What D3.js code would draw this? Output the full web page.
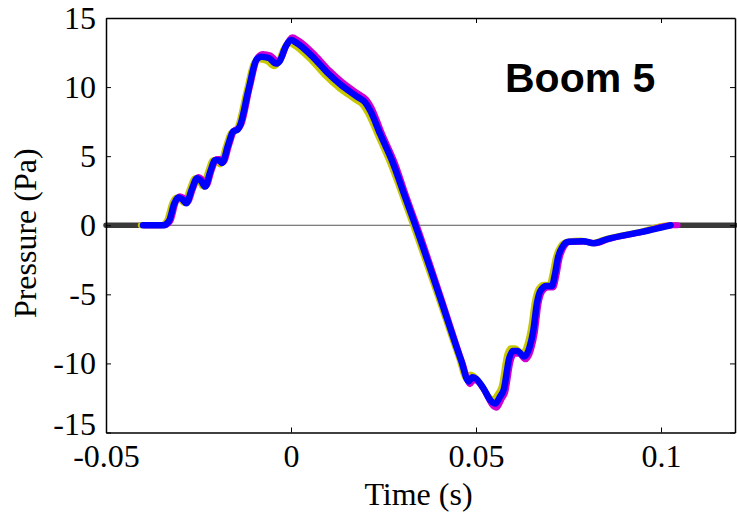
<!DOCTYPE html>
<html>
<head>
<meta charset="utf-8">
<script src="https://cdn.jsdelivr.net/npm/d3@7"></script>
<style>
  html, body { margin: 0; padding: 0; background: #fff; }
  svg { display: block; }
</style>
</head>
<body>
<svg id="chart" width="737" height="514"></svg>
<script>
// ---- Data ----
const xTicks = [-0.05, 0, 0.05, 0.1];
const xTickLabels = ["-0.05", "0", "0.05", "0.1"];
const yTicks = [-15, -10, -5, 0, 5, 10, 15];
const yTickLabels = ["-15", "-10", "-5", "0", "5", "10", "15"];

const blueSeries = [[-0.040,0],[-0.0345,0],[-0.0330,0.3],[-0.0315,1.6],[-0.0305,2.0],[-0.0295,1.9],[-0.0283,1.6],[-0.0268,2.6],[-0.0254,3.4],[-0.0243,3.2],[-0.0232,2.8],[-0.0218,3.9],[-0.0205,4.7],[-0.0195,4.7],[-0.0186,4.5],[-0.0170,5.8],[-0.0156,6.8],[-0.0145,6.9],[-0.0138,7.2],[-0.0115,9.8],[-0.0093,12.0],[-0.0080,12.2],[-0.0060,12.1],[-0.0040,11.7],[-0.0030,11.9],[-0.0015,12.9],[0.0,13.4],[0.0015,13.2],[0.0062,12.1],[0.0100,11.0],[0.0133,10.2],[0.0179,9.3],[0.0200,8.9],[0.0214,8.3],[0.0241,6.6],[0.0277,4.4],[0.0309,2.0],[0.0336,0],[0.0400,-5.0],[0.0460,-9.8],[0.0480,-11.3],[0.0490,-11.0],[0.0500,-11.1],[0.0520,-11.8],[0.0540,-12.7],[0.0552,-12.9],[0.0565,-12.4],[0.0575,-11.9],[0.0590,-9.6],[0.0600,-9.1],[0.0612,-9.1],[0.0630,-9.5],[0.0645,-8.8],[0.0655,-7.6],[0.0665,-5.6],[0.0675,-4.7],[0.0690,-4.4],[0.0705,-4.4],[0.0713,-3.6],[0.0722,-2.3],[0.0735,-1.5],[0.0750,-1.2],[0.0790,-1.15],[0.0818,-1.3],[0.0855,-1.0],[0.0945,-0.5],[0.1026,0]];

const blackSeries = [[-0.050,0],[-0.0345,0],[-0.0330,0.3],[-0.0315,1.6],[-0.0305,2.0],[-0.0295,1.9],[-0.0283,1.6],[-0.0268,2.6],[-0.0254,3.4],[-0.0243,3.2],[-0.0232,2.8],[-0.0218,3.9],[-0.0205,4.7],[-0.0195,4.7],[-0.0186,4.5],[-0.0170,5.8],[-0.0156,6.8],[-0.0145,6.9],[-0.0138,7.2],[-0.0115,9.8],[-0.0093,12.0],[-0.0080,12.2],[-0.0060,12.1],[-0.0040,11.7],[-0.0030,11.9],[-0.0015,12.9],[0.0,13.4],[0.0015,13.2],[0.0062,12.1],[0.0100,11.0],[0.0133,10.2],[0.0179,9.3],[0.0200,8.9],[0.0214,8.3],[0.0241,6.6],[0.0277,4.4],[0.0309,2.0],[0.0336,0],[0.0400,-5.0],[0.0460,-9.8],[0.0480,-11.3],[0.0490,-11.0],[0.0500,-11.1],[0.0520,-11.8],[0.0540,-12.7],[0.0552,-12.9],[0.0565,-12.4],[0.0575,-11.9],[0.0590,-9.6],[0.0600,-9.1],[0.0612,-9.1],[0.0630,-9.5],[0.0645,-8.8],[0.0655,-7.6],[0.0665,-5.6],[0.0675,-4.7],[0.0690,-4.4],[0.0705,-4.4],[0.0713,-3.6],[0.0722,-2.3],[0.0735,-1.5],[0.0750,-1.2],[0.0790,-1.15],[0.0818,-1.3],[0.0855,-1.0],[0.0945,-0.5],[0.1026,0],[0.120,0]];

const yellowSeries = [[-0.0406,0],[-0.0351,0],[-0.0336,0.3],[-0.0321,1.6],[-0.0311,2.0],[-0.0301,1.9],[-0.0289,1.6],[-0.0274,2.6],[-0.0260,3.4],[-0.0249,3.2],[-0.0238,2.8],[-0.0224,3.9],[-0.0211,4.7],[-0.0201,4.6],[-0.0192,4.4],[-0.0176,5.7],[-0.0162,6.7],[-0.0151,6.8],[-0.0144,7.1],[-0.0121,9.6],[-0.0099,11.8],[-0.0086,12.0],[-0.0066,11.9],[-0.0046,11.5],[-0.0036,11.7],[-0.0021,12.7],[-0.0006,13.2],[0.0009,13.0],[0.0056,11.9],[0.0094,10.8],[0.0127,10.0],[0.0173,9.1],[0.0194,8.7],[0.0208,8.1],[0.0235,6.5],[0.0271,4.3],[0.0303,2.0],[0.0330,0],[0.0394,-4.9],[0.0454,-9.6],[0.0474,-11.1],[0.0484,-10.8],[0.0494,-10.9],[0.0514,-11.6],[0.0534,-12.4],[0.0546,-12.6],[0.0559,-12.2],[0.0569,-11.7],[0.0584,-9.4],[0.0594,-8.9],[0.0606,-8.9],[0.0624,-9.3],[0.0639,-8.6],[0.0649,-7.4],[0.0659,-5.5],[0.0669,-4.6],[0.0684,-4.3],[0.0699,-4.3],[0.0707,-3.5],[0.0716,-2.3],[0.0729,-1.5],[0.0744,-1.2],[0.0784,-1.1],[0.0812,-1.3],[0.0849,-1.0],[0.0939,-0.5],[0.1020,0],[0.1030,0]];

const magentaSeries = [[-0.0396,0],[-0.0341,0],[-0.0326,0.3],[-0.0311,1.7],[-0.0301,2.1],[-0.0291,2.0],[-0.0279,1.7],[-0.0264,2.7],[-0.0250,3.5],[-0.0239,3.3],[-0.0228,2.9],[-0.0214,4.0],[-0.0201,4.8],[-0.0191,4.8],[-0.0182,4.6],[-0.0166,5.9],[-0.0152,6.9],[-0.0141,7.0],[-0.0134,7.3],[-0.0111,10.0],[-0.0089,12.2],[-0.0076,12.4],[-0.0056,12.3],[-0.0036,11.9],[-0.0026,12.1],[-0.0011,13.1],[0.0004,13.6],[0.0019,13.4],[0.0066,12.3],[0.0104,11.2],[0.0137,10.4],[0.0183,9.5],[0.0204,9.1],[0.0218,8.5],[0.0245,6.7],[0.0281,4.5],[0.0313,2.0],[0.0340,0],[0.0404,-5.1],[0.0464,-10.0],[0.0484,-11.5],[0.0494,-11.2],[0.0504,-11.3],[0.0524,-12.0],[0.0544,-13.0],[0.0556,-13.2],[0.0569,-12.6],[0.0579,-12.1],[0.0594,-9.8],[0.0604,-9.3],[0.0616,-9.3],[0.0634,-9.7],[0.0649,-9.0],[0.0659,-7.8],[0.0669,-5.7],[0.0679,-4.8],[0.0694,-4.5],[0.0709,-4.5],[0.0717,-3.7],[0.0726,-2.4],[0.0739,-1.5],[0.0754,-1.2],[0.0794,-1.2],[0.0822,-1.3],[0.0859,-1.0],[0.0949,-0.5],[0.1030,0],[0.1045,0]];

const seriesList = [
  { name: "black",   data: blackSeries,   color: "#3a3a3a", width: 5.5 },
  { name: "yellow",  data: yellowSeries,  color: "#c8c800", width: 6 },
  { name: "magenta", data: magentaSeries, color: "#d000d0", width: 6 },
  { name: "blue",    data: blueSeries,    color: "#0000ff", width: 6.5 }
];

// ---- Layout ----
const svg = d3.select("#chart");
const plotLeft = 106, plotRight = 735, plotTop = 18, plotBottom = 432.5;

const x = d3.scaleLinear().domain([-0.05, 0.12]).range([plotLeft, plotRight]);
const y = d3.scaleLinear().domain([-15, 15]).range([plotBottom, plotTop]);

// zero reference line
svg.append("line")
  .attr("x1", plotLeft).attr("x2", plotRight)
  .attr("y1", y(0)).attr("y2", y(0))
  .attr("stroke", "#555").attr("stroke-width", 1);

const line = d3.line().x(d => x(d[0])).y(d => y(d[1])).curve(d3.curveMonotoneX);

svg.append("g").selectAll("path")
  .data(seriesList)
  .join("path")
  .attr("d", d => line(d.data))
  .attr("fill", "none")
  .attr("stroke", d => d.color)
  .attr("stroke-width", d => d.width)
  .attr("stroke-linejoin", "round")
  .attr("stroke-linecap", "round");

// ---- Axes (MATLAB style box with inward ticks) ----
const fmtX = (d, i) => xTickLabels[i];
const fmtY = (d, i) => yTickLabels[i];
const tickLen = 5;

const gB = svg.append("g").attr("transform", `translate(0,${plotBottom})`)
  .call(d3.axisBottom(x).tickValues(xTicks).tickFormat(fmtX).tickSizeInner(-tickLen).tickSizeOuter(0).tickPadding(15));
const gT = svg.append("g").attr("transform", `translate(0,${plotTop})`)
  .call(d3.axisTop(x).tickValues(xTicks).tickFormat("").tickSizeInner(-tickLen).tickSizeOuter(0));
const gL = svg.append("g").attr("transform", `translate(${plotLeft},0)`)
  .call(d3.axisLeft(y).tickValues(yTicks).tickFormat(fmtY).tickSizeInner(-tickLen).tickSizeOuter(0).tickPadding(10));
const gR = svg.append("g").attr("transform", `translate(${plotRight},0)`)
  .call(d3.axisRight(y).tickValues(yTicks).tickFormat("").tickSizeInner(-tickLen).tickSizeOuter(0));

[gB, gT, gL, gR].forEach(g => {
  g.select(".domain").attr("stroke", "#000").attr("stroke-width", 1.5);
  g.selectAll(".tick line").attr("stroke", "#000").attr("stroke-width", 1);
  g.selectAll("text")
    .attr("font-family", "'Liberation Serif', 'Times New Roman', serif")
    .attr("font-size", 32)
    .attr("fill", "#000");
});
gB.selectAll("text").attr("dy", "0.6em");
gL.selectAll("text").attr("dy", "0.33em");
// lift the lowest y label a touch so it does not collide with "-0.05"
gL.selectAll(".tick text").filter(d => d === -15).attr("dy", "0.05em");

// Axis titles
svg.append("text")
  .attr("x", (plotLeft + plotRight) / 2 - 2).attr("y", 505)
  .attr("text-anchor", "middle")
  .attr("font-family", "'Liberation Serif', 'Times New Roman', serif")
  .attr("font-size", 32)
  .text("Time (s)");

svg.append("text")
  .attr("transform", `translate(36,${(plotTop + plotBottom) / 2 + 8}) rotate(-90)`)
  .attr("text-anchor", "middle")
  .attr("font-family", "'Liberation Serif', 'Times New Roman', serif")
  .attr("font-size", 32)
  .text("Pressure (Pa)");

// Annotation
svg.append("text")
  .attr("x", 505).attr("y", 92)
  .attr("font-family", "'Liberation Sans', Arial, sans-serif")
  .attr("font-weight", "bold")
  .attr("font-size", 41)
  .text("Boom 5");
</script>
</body>
</html>
